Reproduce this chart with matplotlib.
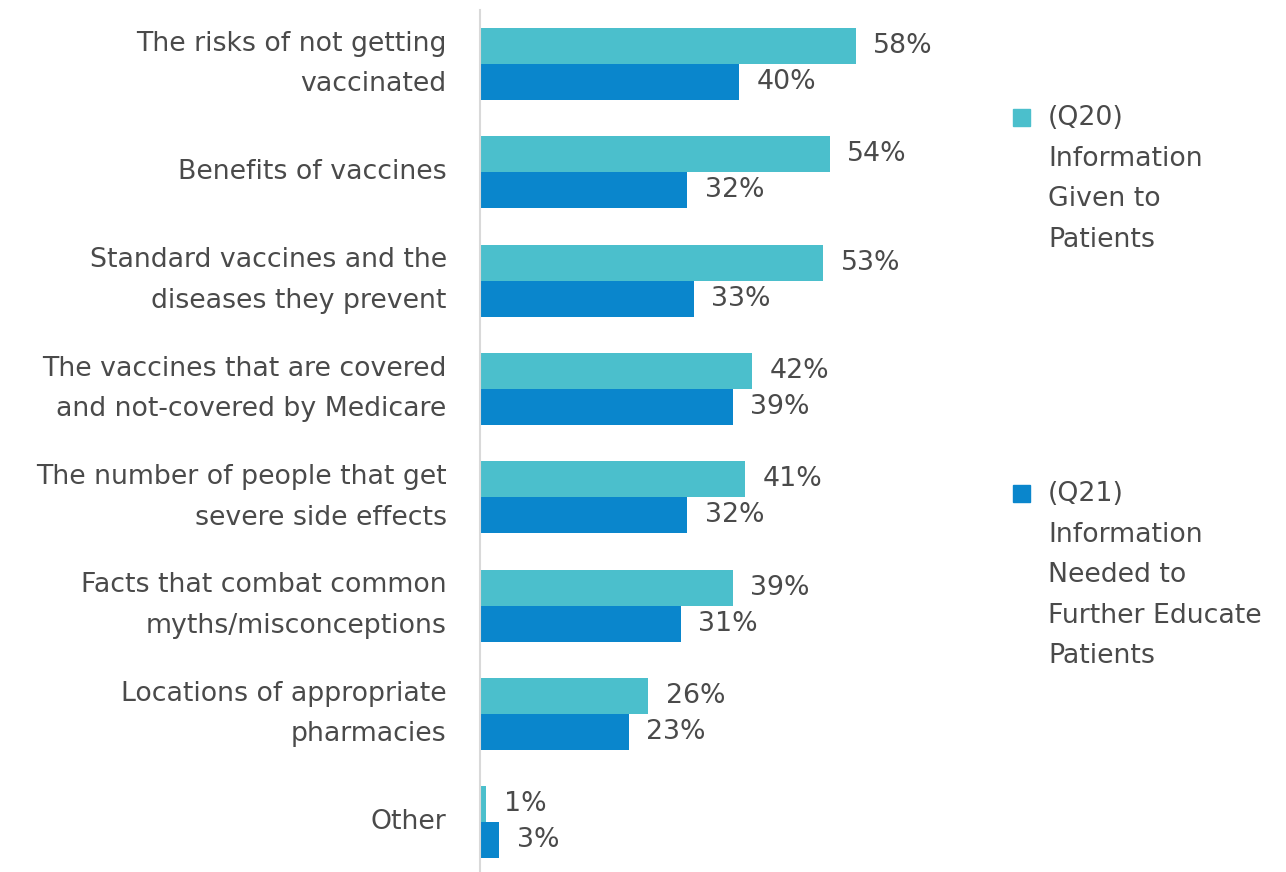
import numpy as np
import matplotlib.pyplot as plt
from matplotlib.patches import Rectangle

plt.rcParams['font.family'] = ['DejaVu Sans']

categories = ['The risks of not getting\nvaccinated',
              'Benefits of vaccines',
              'Standard vaccines and the\ndiseases they prevent',
              'The vaccines that are covered\nand not-covered by Medicare',
              'The number of people that get\nsevere side effects',
              'Facts that combat common\nmyths/misconceptions',
              'Locations of appropriate\npharmacies',
              'Other']
q20 = [58, 54, 53, 42, 41, 39, 26, 1]
q21 = [40, 32, 33, 39, 32, 31, 23, 3]
legend_labels = ['(Q20)\nInformation\nGiven to\nPatients',
                 '(Q21)\nInformation\nNeeded to\nFurther Educate\nPatients']

teal = '#4BBFCC'
blue = '#0A86CC'
txt = '#4a4a4a'
fs = 19.3
ls = 1.73

fig = plt.figure(figsize=(12.86, 8.72), dpi=100)
ax = fig.add_axes([480/1286, 0, 518/1286, 1 - 10/872])

y = np.arange(len(categories))
h = 0.333
ax.barh(y - h/2, q20, height=h, color=teal)
ax.barh(y + h/2, q21, height=h, color=blue)

for i in range(len(categories)):
    ax.text(q20[i] + 2.7, y[i] - h/2, f'{q20[i]}%', va='center', ha='left',
            fontsize=fs, color=txt)
    ax.text(q21[i] + 2.7, y[i] + h/2, f'{q21[i]}%', va='center', ha='left',
            fontsize=fs, color=txt)

ax.set_xlim(0, 80)
ax.set_ylim(7.46, -0.5)
ax.set_yticks(y)
ax.set_yticklabels(categories, fontsize=fs, color=txt, linespacing=ls, va='center')
ax.tick_params(axis='y', length=0, pad=24)
ax.set_xticks([])
for s in ['top', 'right', 'bottom']:
    ax.spines[s].set_visible(False)
ax.spines['left'].set_color('#D9D9D9')
ax.spines['left'].set_linewidth(1.5)

# legend drawn by hand so the entries sit where they do in the original
leg_y = [117, 493]
for lab, col, py in zip(legend_labels, [teal, blue], leg_y):
    fig.patches.append(Rectangle((1013/1286, 1 - (py + 9)/872), 17/1286, 17/872,
                                 transform=fig.transFigure, color=col))
    fig.text(1048/1286, 1 - (py - 12)/872, lab, fontsize=fs, color=txt,
             va='top', ha='left', linespacing=ls)

fig.savefig('out.png', dpi=100)
